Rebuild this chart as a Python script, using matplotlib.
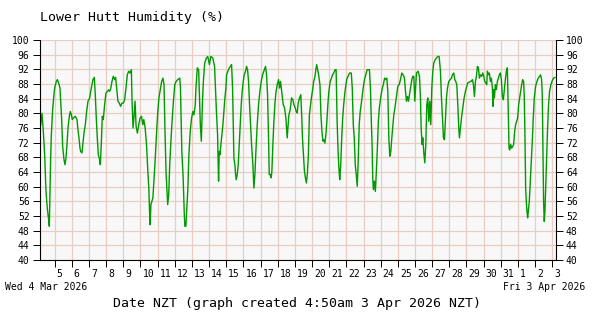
import matplotlib
matplotlib.use("Agg")
import matplotlib.pyplot as plt
from matplotlib.transforms import ScaledTranslation

# humidity readings, x = days after Wed 4 Mar 2026 00:00 NZT
days = [
    0.146, 0.184, 0.262, 0.340, 0.417, 0.495, 0.573, 0.650, 0.689, 0.728, 0.767, 0.806, 0.883, 0.942,
    1.000, 1.097, 1.155, 1.233, 1.311, 1.369, 1.408, 1.466, 1.544, 1.602, 1.660, 1.718, 1.777, 1.854, 1.913, 1.971,
    2.029, 2.087, 2.204, 2.301, 2.359, 2.417, 2.476, 2.515, 2.592, 2.631, 2.709, 2.786, 2.864, 2.942,
    3.039, 3.136, 3.233, 3.311, 3.369, 3.427, 3.485, 3.544, 3.621, 3.660, 3.718, 3.777, 3.835, 3.913, 3.990,
    4.068, 4.146, 4.204, 4.262, 4.340, 4.417, 4.495, 4.553, 4.612, 4.689, 4.767, 4.845, 4.922, 5.000, 5.078,
    5.157, 5.235, 5.314, 5.392, 5.471, 5.510, 5.569, 5.627, 5.686, 5.745, 5.824, 5.902, 5.980,
    6.059, 6.137, 6.196, 6.275, 6.353, 6.431, 6.490, 6.529, 6.569, 6.608, 6.667, 6.725, 6.784, 6.843, 6.902, 6.961,
    7.020, 7.078, 7.157, 7.235, 7.314, 7.373, 7.431, 7.490, 7.549, 7.588, 7.647, 7.706, 7.765, 7.843, 7.922,
    8.000, 8.078, 8.176, 8.294, 8.333, 8.412, 8.490, 8.549, 8.588, 8.647, 8.706, 8.765, 8.824, 8.902, 8.980,
    9.059, 9.118, 9.196, 9.235, 9.314, 9.392, 9.490, 9.549, 9.608, 9.667, 9.745, 9.843, 9.922,
    10.020, 10.098, 10.216, 10.320, 10.379, 10.437, 10.495, 10.553, 10.592, 10.631, 10.689, 10.748, 10.806, 10.864, 10.922, 10.981,
    11.019, 11.097, 11.175, 11.252, 11.311, 11.369, 11.408, 11.447, 11.505, 11.544, 11.583, 11.641, 11.699, 11.757, 11.816, 11.874, 11.932, 11.990,
    12.049, 12.126, 12.184, 12.243, 12.301, 12.359, 12.417, 12.476, 12.553, 12.612, 12.670, 12.728, 12.806, 12.883, 12.961,
    13.039, 13.117, 13.194, 13.291, 13.350, 13.408, 13.466, 13.505, 13.563, 13.621, 13.660, 13.718, 13.777, 13.835, 13.893, 13.971,
    14.049, 14.107, 14.165, 14.243, 14.320, 14.398, 14.476, 14.553, 14.592, 14.650, 14.728, 14.806, 14.883, 14.942,
    15.019, 15.078, 15.136, 15.194, 15.272, 15.346, 15.404, 15.442, 15.500, 15.558, 15.615, 15.673, 15.731, 15.788, 15.846, 15.904, 15.962,
    16.038, 16.096, 16.154, 16.212, 16.269, 16.327, 16.385, 16.462, 16.519, 16.577, 16.635, 16.692, 16.750, 16.808, 16.865, 16.923, 16.981,
    17.058, 17.135, 17.192, 17.269, 17.346, 17.404, 17.462, 17.519, 17.577, 17.615, 17.673, 17.731, 17.788, 17.846, 17.923,
    18.019, 18.096, 18.192, 18.288, 18.346, 18.404, 18.462, 18.519, 18.577, 18.635, 18.692, 18.750, 18.808, 18.865, 18.923, 18.981,
    19.058, 19.135, 19.212, 19.288, 19.346, 19.404, 19.462, 19.500, 19.538, 19.577, 19.635, 19.692, 19.750, 19.808, 19.865, 19.923,
    20.000, 20.077, 20.154, 20.231, 20.301, 20.359, 20.417, 20.476, 20.534, 20.592, 20.650, 20.709, 20.767, 20.845, 20.922,
    21.000, 21.078, 21.155, 21.233, 21.311, 21.388, 21.447, 21.505, 21.563, 21.621, 21.680, 21.738, 21.816, 21.874, 21.932, 21.990,
    22.087, 22.184, 22.262, 22.320, 22.359, 22.417, 22.456, 22.515, 22.573, 22.631, 22.689, 22.748, 22.806, 22.864, 22.922, 22.981,
    23.039, 23.097, 23.175, 23.252, 23.330, 23.408, 23.485, 23.544, 23.602, 23.660, 23.718, 23.777, 23.835, 23.893, 23.971,
    24.049, 24.126, 24.184, 24.262, 24.320, 24.379, 24.437, 24.495, 24.553, 24.592, 24.650, 24.709, 24.786, 24.864, 24.942,
    25.019, 25.078, 25.155, 25.233, 25.271, 25.349, 25.407, 25.465, 25.523, 25.581, 25.640, 25.698, 25.756, 25.814, 25.891, 25.950,
    26.008, 26.066, 26.124, 26.182, 26.221, 26.279, 26.337, 26.395, 26.453, 26.512, 26.550, 26.589, 26.628, 26.686, 26.744, 26.802, 26.860, 26.919, 26.977,
    27.035, 27.093, 27.151, 27.209, 27.267, 27.326, 27.384, 27.442, 27.481, 27.519, 27.578, 27.636, 27.694, 27.752, 27.810, 27.868, 27.926, 27.984,
    28.043, 28.101, 28.159, 28.217, 28.275, 28.333, 28.372, 28.411, 28.450, 28.488, 28.527, 28.566, 28.605, 28.663, 28.721, 28.779, 28.837, 28.895, 28.953,
    29.031, 29.109, 29.186, 29.264, 29.322, 29.380, 29.419, 29.457, 29.496, 29.535, 29.574, 29.612, 29.651, 29.690, 29.729, 29.787, 29.845, 29.922,
    30.000, 30.078, 30.155,
]
humidity = [
    79.6, 76.7, 80.0, 75.0, 68.7, 58.7, 54.0, 51.0, 49.2, 58.7, 67.8, 74.0, 81.0, 84.2,
    86.9, 88.7, 89.2, 88.3, 86.9, 81.9, 78.3, 71.0, 67.4, 66.0, 67.8, 71.5, 76.0, 79.2, 80.5, 79.6,
    78.3, 78.7, 79.2, 78.3, 75.5, 73.3, 70.5, 69.6, 69.2, 71.0, 74.6, 76.9, 80.5, 83.3,
    84.2, 86.9, 89.2, 89.8, 85.0, 78.7, 73.3, 68.7, 67.4, 66.0, 71.5, 79.2, 78.3, 82.4, 85.5,
    86.0, 86.4, 86.0, 86.6, 88.7, 90.1, 89.2, 89.8, 86.9, 83.3, 82.8, 81.9, 82.8, 82.8, 83.7,
    86.9, 90.5, 91.5, 91.0, 91.9, 83.3, 76.0, 79.2, 83.3, 76.5, 74.6, 76.9, 78.7,
    79.2, 76.9, 78.3, 76.0, 71.5, 64.2, 59.6, 53.3, 49.6, 55.1, 56.0, 56.9, 61.5, 66.0, 71.5, 76.5,
    81.0, 84.2, 86.5, 88.7, 89.6, 87.8, 75.1, 64.2, 58.7, 55.1, 57.8, 66.0, 71.5, 77.8, 83.3,
    87.8, 88.7, 89.2, 89.6, 86.9, 69.6, 62.4, 53.3, 49.2, 49.2, 54.2, 59.6, 68.7, 75.1, 78.7,
    80.5, 79.6, 82.4, 86.9, 92.4, 91.9, 76.9, 72.4, 82.4, 88.7, 93.7, 95.1, 95.5,
    93.3, 95.5, 95.1, 92.8, 86.0, 79.6, 74.2, 61.5, 69.6, 68.7, 71.5, 74.2, 76.9, 80.5, 84.2, 86.9,
    90.5, 91.5, 92.4, 92.8, 93.3, 86.9, 77.8, 67.8, 66.0, 63.3, 61.9, 63.3, 66.0, 71.5, 76.9, 82.4, 86.0, 88.7,
    90.5, 91.5, 92.8, 91.9, 88.7, 82.4, 76.9, 71.5, 66.0, 59.6, 63.3, 69.6, 76.9, 82.4, 86.0,
    88.7, 90.5, 91.5, 92.8, 90.5, 85.1, 73.3, 63.3, 63.3, 62.4, 64.2, 71.5, 77.8, 82.4, 85.5, 87.8,
    89.2, 86.9, 88.7, 85.5, 82.4, 81.5, 78.7, 73.3, 76.0, 79.6, 81.0, 84.2, 83.7, 82.4,
    81.5, 80.5, 80.1, 82.8, 84.2, 85.1, 78.7, 73.3, 68.7, 64.2, 62.4, 61.0, 63.7, 68.7, 79.6, 81.9, 84.2,
    86.5, 88.7, 89.6, 91.5, 93.3, 91.9, 90.5, 87.8, 79.6, 75.1, 72.4, 72.8, 71.9, 74.2, 77.8, 82.4, 86.0,
    88.7, 89.6, 90.5, 91.0, 91.9, 91.9, 77.8, 69.6, 64.2, 61.9, 66.0, 73.3, 78.7, 82.4, 86.0,
    89.2, 90.1, 91.0, 91.0, 86.9, 76.9, 73.3, 66.0, 63.3, 60.1, 66.9, 76.9, 80.5, 82.4, 84.6, 86.9,
    89.2, 90.5, 91.9, 91.9, 91.9, 86.9, 76.9, 71.5, 62.4, 59.2, 61.5, 58.7, 64.2, 70.5, 77.8, 81.5,
    84.2, 86.5, 87.8, 89.6, 89.2, 89.6, 86.0, 73.3, 68.3, 69.6, 73.3, 76.5, 79.6, 81.9, 84.6,
    87.4, 87.8, 89.2, 91.0, 90.5, 89.6, 86.0, 83.3, 84.6, 83.3, 85.1, 86.9, 89.2, 90.1, 90.1, 83.3,
    91.0, 91.5, 90.1, 84.2, 76.0, 71.5, 73.3, 69.2, 66.5, 71.5, 82.4, 84.2, 77.8, 83.3, 76.9, 86.9,
    91.5, 93.7, 94.6, 95.1, 95.5, 95.5, 91.5, 84.2, 78.7, 73.3, 72.8, 78.7, 84.2, 86.9, 88.7,
    89.2, 89.6, 90.5, 91.0, 89.2, 88.7, 87.8, 82.4, 76.0, 73.3, 76.0, 78.7, 81.5, 84.2, 86.0,
    87.4, 88.3, 88.5, 88.7, 88.7, 89.2, 87.8, 84.6, 88.7, 90.1, 92.8, 92.4, 89.6, 90.5, 90.1, 91.0,
    90.1, 88.7, 88.3, 87.8, 91.5, 90.5, 91.0, 88.7, 89.6, 86.9, 81.9, 86.5, 84.2, 87.8, 86.5, 88.7, 89.6, 90.5, 91.0,
    89.2, 84.6, 83.7, 86.5, 89.2, 91.5, 92.4, 78.7, 70.5, 70.0, 71.5, 70.5, 71.0, 71.5, 75.1, 76.9, 77.8, 78.7,
    82.4, 84.2, 86.0, 87.8, 89.2, 88.7, 84.2, 73.3, 59.6, 56.0, 53.3, 51.5, 53.3, 56.0, 61.5, 66.9, 72.4, 78.7, 84.2,
    87.4, 88.7, 89.6, 90.1, 90.5, 89.2, 85.1, 69.6, 56.0, 50.5, 53.3, 58.7, 64.2, 70.5, 76.0, 82.4, 86.0, 87.8,
    88.9, 89.6, 89.8,
]

# day ticks: midnight of 5 Mar ... 3 Apr
tick_days = list(range(1, 31))
day_labels = [str(d) for d in range(5, 32)] + ['1', '2', '3']
y_ticks = list(range(40, 101, 4))

grid_col = '#e8cec2'
mono = 'DejaVu Sans Mono'

fig = plt.figure(figsize=(6, 3.2), dpi=100)
ax = fig.add_axes([40 / 600, 1 - 260 / 320, 515.5 / 600, 220 / 320])
ax.set_facecolor('#f8f8f8')

ax.plot(days, humidity, color='#009900', linewidth=1.0)

ax.set_xlim(0.146, 30.19)
ax.set_ylim(40, 100)
ax.set_xticks(tick_days)
ax.set_xticklabels(day_labels)
ax.set_yticks(y_ticks)
ax.grid(True, color=grid_col, linewidth=0.9)
ax.set_axisbelow(True)

ax.spines['top'].set_visible(False)
for s in ['left', 'right', 'bottom']:
    ax.spines[s].set_linewidth(0.8)

ax.tick_params(axis='x', direction='out', length=5, width=0.7, pad=1.5, labelsize=7)
ax.tick_params(axis='y', direction='out', length=5, width=0.7, pad=2.5, labelsize=7,
               left=True, right=True, labelleft=True, labelright=True)
for lbl in ax.get_xticklabels() + ax.get_yticklabels():
    lbl.set_family(mono)
for lbl in ax.get_xticklabels():
    lbl.set_ha('left')
    lbl.set_transform(lbl.get_transform() + ScaledTranslation(2 / 100, 0, fig.dpi_scale_trans))

fig.text(40 / 600, 1 - 18 / 320, 'Lower Hutt Humidity (%)', family=mono, fontsize=9.5,
         ha='left', va='center')
fig.text(5 / 600, 1 - 287 / 320, 'Wed 4 Mar 2026', family=mono, fontsize=7, ha='left', va='center')
fig.text(585 / 600, 1 - 287 / 320, 'Fri 3 Apr 2026', family=mono, fontsize=7, ha='right', va='center')
fig.text(297 / 600, 1 - 303 / 320, 'Date NZT (graph created 4:50am 3 Apr 2026 NZT)', family=mono,
         fontsize=9.5, ha='center', va='center')

fig.savefig('out.png', dpi=100, facecolor='white')
